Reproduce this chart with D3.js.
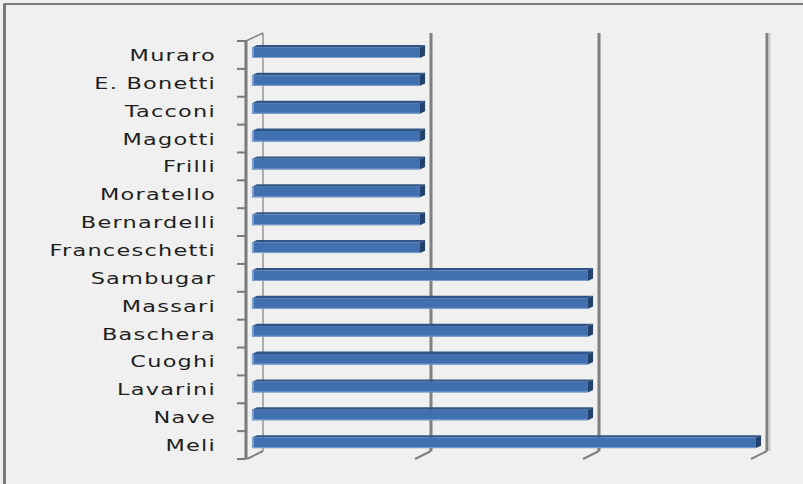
<!DOCTYPE html>
<html>
<head>
<meta charset="utf-8">
<script src="https://cdn.jsdelivr.net/npm/d3@7"></script>
<style>
  body { margin: 0; background: #f0f0f0; }
  svg { display: block; }
</style>
</head>
<body>
<script>
// Données : noms (de haut en bas) et valeurs
var noms = ["Muraro", "E. Bonetti", "Tacconi", "Magotti", "Frilli", "Moratello",
  "Bernardelli", "Franceschetti", "Sambugar", "Massari", "Baschera", "Cuoghi",
  "Lavarini", "Nave", "Meli"];
var valeurs = [1, 1, 1, 1, 1, 1, 1, 1, 2, 2, 2, 2, 2, 2, 3];
var ticks = [0, 1, 2, 3];

var W = 803, H = 484;
// plan avant de la zone de tracé
var x0 = 246, yTop = 41, yBot = 459;
// profondeur 3D (décalage vers le fond)
var dX = 17, dY = -8;

var svg = d3.select("body").append("svg")
  .attr("width", W).attr("height", H);

svg.append("rect")
  .attr("x", 0).attr("y", 0).attr("width", W).attr("height", H)
  .attr("fill", "#f0f0f0");

// cadre du graphique (sort de l'image à droite et en bas)
svg.append("rect")
  .attr("x", 4.5).attr("y", 4).attr("width", W + 10).attr("height", H + 10)
  .attr("fill", "none").attr("stroke", "#7a7a7a").attr("stroke-width", 2);
svg.append("line")
  .attr("x1", 4.5).attr("x2", 4.5).attr("y1", 4).attr("y2", H)
  .attr("stroke", "#7a7a7a").attr("stroke-width", 3);

var x = d3.scaleLinear().domain([0, 3]).range([0, 504]);
var y = d3.scaleBand().domain(noms).range([yTop, yBot]);

// mur du fond : lignes de quadrillage
ticks.forEach(function (t) {
  var gx = x0 + dX + x(t);
  if (t === 0) {
    svg.append("line")
      .attr("x1", gx).attr("x2", gx).attr("y1", yTop + dY).attr("y2", yBot + dY)
      .attr("stroke", "#808080").attr("stroke-width", 1.2);
  } else {
    svg.append("line")
      .attr("x1", gx).attr("x2", gx).attr("y1", yTop + dY).attr("y2", yBot + dY)
      .attr("stroke", "#808080").attr("stroke-width", 3);
  }
  if (t === 3) {
    svg.append("line")
      .attr("x1", gx + 2.5).attr("x2", gx + 2.5).attr("y1", yTop + dY).attr("y2", yBot + dY)
      .attr("stroke", "#c8c8c8").attr("stroke-width", 2);
  }
  // graduations du plancher
  svg.append("line")
    .attr("x1", gx).attr("y1", yBot + dY)
    .attr("x2", x0 + x(t) + 1).attr("y2", yBot)
    .attr("stroke", "#808080").attr("stroke-width", 2);
});

// axe vertical avant
svg.append("line")
  .attr("x1", x0).attr("x2", x0).attr("y1", yTop).attr("y2", yBot)
  .attr("stroke", "#7a7a7a").attr("stroke-width", 3);
svg.append("line")
  .attr("x1", x0).attr("y1", yTop).attr("x2", x0 + dX).attr("y2", yTop + dY)
  .attr("stroke", "#808080").attr("stroke-width", 1.5);
var bornes = noms.map(function (n) { return y(n); }).concat([yBot]);
bornes.forEach(function (b) {
  svg.append("line")
    .attr("x1", x0 - 9).attr("x2", x0).attr("y1", b).attr("y2", b)
    .attr("stroke", "#7a7a7a").attr("stroke-width", 2);
});

// barres 3D
var t0 = 0.35, t1 = 0.65;
var bw = y.bandwidth();
var g = svg.append("g");
noms.forEach(function (n, i) {
  var xl = x0 + dX * t0 + x(0);
  var xr = x0 + dX * t0 + x(valeurs[i]);
  var yt = y(n) + bw * 0.33 + dY * t0;
  var yb = yt + bw * 0.38;
  var ox = dX * (t1 - t0), oy = dY * (t1 - t0);
  // dessus
  g.append("polygon")
    .attr("points", [[xl, yt], [xr, yt], [xr + ox, yt + oy], [xl + ox, yt + oy]].join(" "))
    .attr("fill", "#2f5485");
  // côté droit
  g.append("polygon")
    .attr("points", [[xr, yt], [xr + ox, yt + oy], [xr + ox, yb + oy], [xr, yb]].join(" "))
    .attr("fill", "#22416b");
  // face avant
  g.append("rect")
    .attr("x", xl).attr("y", yt).attr("width", xr - xl).attr("height", yb - yt)
    .attr("fill", "#4070af");
  // liseré clair gauche et bas
  g.append("rect")
    .attr("x", xl).attr("y", yt).attr("width", 2).attr("height", yb - yt)
    .attr("fill", "#7da0cf");
  g.append("line")
    .attr("x1", xl).attr("x2", xr).attr("y1", yb - 0.5).attr("y2", yb - 0.5)
    .attr("stroke", "#7da0cf").attr("stroke-width", 1);
});

// étiquettes (texte étiré horizontalement comme dans l'original)
var sx = 1.4;
noms.forEach(function (n) {
  var cy = y(n) + bw / 2;
  svg.append("text")
    .attr("transform", "translate(216," + (cy + 6) + ") scale(" + sx + ",1)")
    .attr("text-anchor", "end")
    .attr("font-family", "DejaVu Sans")
    .attr("font-size", 16)
    .attr("letter-spacing", 0.9)
    .attr("fill", "#1e1e1e")
    .text(n);
});
</script>
</body>
</html>
